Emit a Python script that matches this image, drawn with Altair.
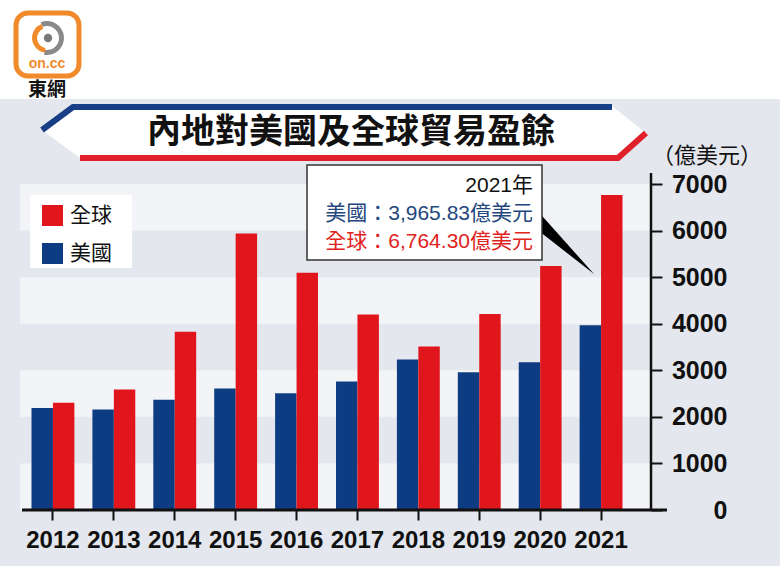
import altair as alt
import pandas as pd

# ---------------- data ----------------
years = ["2012", "2013", "2014", "2015", "2016", "2017", "2018", "2019", "2020", "2021"]
us_values = [2189, 2159, 2370, 2611, 2507, 2758, 3233, 2960, 3170, 3966]
global_values = [2303, 2590, 3825, 5939, 5097, 4196, 3509, 4211, 5240, 6764]
series_bar_order = ["美國", "全球"]
series_legend_order = ["全球", "美國"]
series_colors = ["#e1161c", "#0e3c82"]  # 全球, 美國
y_tick_values = [0, 1000, 2000, 3000, 4000, 5000, 6000, 7000]
panel_low = [0]
panel_high = [7000]
dark_band_low = [1000, 3000, 5000]
dark_band_high = [2000, 4000, 6000]

title_text = "內地對美國及全球貿易盈餘"
unit_text = "（億美元）"
note_year = "2021年"
note_us = "美國：3,965.83億美元"
note_global = "全球：6,764.30億美元"
logo_word = "on.cc"
logo_name = "東網"

# ---------------- layout ----------------
L, T = 20, 184
W, H = 614, 326
R = 780 - L - W
B = 566 - T - H


def px(x):
    return x - L


def py(y):
    return y - T


CJK = "Noto Sans CJK TC"
MIX = "Liberation Sans, Noto Sans CJK TC"

df = pd.DataFrame({
    "year": years * 2,
    "series": ["美國"] * len(years) + ["全球"] * len(years),
    "value": us_values + global_values,
})
panel_df = pd.DataFrame({"lo": panel_low, "hi": panel_high})
band_df = pd.DataFrame({"lo": dark_band_low, "hi": dark_band_high})
one = alt.Chart(pd.DataFrame({"k": [0]}))

yscale = alt.Scale(domain=[0, 7000], nice=False, zero=True)
yaxis = alt.Axis(title=None, orient="right", offset=17, domain=False, grid=False,
                 values=y_tick_values, format="d", tickSize=11, tickWidth=2, tickColor="#111111",
                 labelAlign="right", labelBaseline="middle", labelPadding=65,
                 labelFontSize=25, labelFontWeight="bold", labelFont="Liberation Sans",
                 labelColor="#111111", labelOverlap=False)

# ---------------- background ----------------
bg_top = one.mark_rect(color="#ffffff").encode(
    x=alt.value(px(0)), x2=alt.value(px(780)), y=alt.value(py(0)), y2=alt.value(py(99)))

panel = alt.Chart(panel_df).mark_rect(color="#f3f4f7").encode(
    x=alt.value(px(20)), x2=alt.value(px(651)),
    y=alt.Y("lo:Q", scale=yscale, axis=yaxis), y2="hi:Q")

dark_bands = alt.Chart(band_df).mark_rect(color="#e4e7ed").encode(
    x=alt.value(px(20)), x2=alt.value(px(651)),
    y=alt.Y("lo:Q", scale=yscale, axis=yaxis), y2="hi:Q")

# ---------------- bars ----------------
bars = alt.Chart(df).mark_bar(opacity=1).encode(
    x=alt.X("year:N", sort=years,
            scale=alt.Scale(paddingInner=0.296, paddingOuter=0.189),
            axis=alt.Axis(title=None, domain=False, labelAngle=0, tickSize=10, tickWidth=2,
                          tickColor="#111111", labelFontSize=24, labelFontWeight="bold",
                          labelFont="Liberation Sans", labelColor="#111111", labelPadding=8)),
    xOffset=alt.XOffset("series:N", sort=series_bar_order,
                        scale=alt.Scale(domain=series_bar_order, paddingInner=0, paddingOuter=0)),
    y=alt.Y("value:Q", scale=yscale, axis=yaxis),
    color=alt.Color("series:N",
                    scale=alt.Scale(domain=series_legend_order, range=series_colors),
                    legend=alt.Legend(title=None, orient="none", legendX=px(42), legendY=py(205),
                                      padding=0, symbolType="square", symbolSize=441,
                                      symbolStrokeWidth=0, symbolOpacity=1, labelFontSize=21,
                                      labelFont=CJK, labelColor="#111111", labelOffset=7,
                                      rowPadding=16)),
)

axis_line = one.mark_rule(color="#111111", strokeWidth=2.5).encode(
    x=alt.value(px(651)), y=alt.value(py(173)), y2=alt.value(H))
baseline = one.mark_rule(color="#111111", strokeWidth=3).encode(
    x=alt.value(px(22)), x2=alt.value(px(667)), y=alt.value(H))

legend_box = one.mark_rect(color="#ffffff").encode(
    x=alt.value(px(30)), x2=alt.value(px(132)), y=alt.value(py(195)), y2=alt.value(py(268)))

# ---------------- title banner ----------------
banner_path_fill = "M 42 130 L 73 106 L 612 106 L 646 133 L 618 158 L 80 158 Z"
banner_path_blue = "M 42 130 L 73 107 L 612 107"
banner_path_red = "M 646 133 L 618 158 L 80 158"

banner_fill = one.mark_point(shape=banner_path_fill, size=4, filled=True, fill="#ffffff",
                             stroke="#ffffff", strokeWidth=0, opacity=1).encode(
    x=alt.value(px(0)), y=alt.value(py(0)))
banner_blue = one.mark_point(shape=banner_path_blue, size=4, filled=False, fill="transparent",
                             stroke="#183f86", strokeWidth=6, opacity=1).encode(
    x=alt.value(px(0)), y=alt.value(py(0)))
banner_red = one.mark_point(shape=banner_path_red, size=4, filled=False, fill="transparent",
                            stroke="#e0202a", strokeWidth=6, opacity=1).encode(
    x=alt.value(px(0)), y=alt.value(py(0)))

title = one.mark_text(text=title_text, font=CJK, fontSize=34, fontWeight="bold",
                      color="#111111", align="center", baseline="middle").encode(
    x=alt.value(px(351)), y=alt.value(py(133)))

unit = one.mark_text(text=unit_text, font=CJK, fontSize=22, color="#111111",
                     align="center", baseline="middle").encode(
    x=alt.value(px(707)), y=alt.value(py(156)))

# ---------------- annotation ----------------
pointer = one.mark_point(shape="M 535 208 L 535 228 L 594 274 Z", size=4, filled=True,
                         fill="#000000", strokeWidth=0, opacity=1).encode(
    x=alt.value(px(0)), y=alt.value(py(0)))
note_box = one.mark_rect(fill="#ffffff", stroke="#333333", strokeWidth=1.5).encode(
    x=alt.value(px(307)), x2=alt.value(px(542)), y=alt.value(py(165)), y2=alt.value(py(260)))
note1 = one.mark_text(text=note_year, font=MIX, fontSize=21, color="#111111",
                      align="right", baseline="middle").encode(
    x=alt.value(px(533)), y=alt.value(py(186)))
note2 = one.mark_text(text=note_us, font=MIX, fontSize=21, color="#23467e",
                      align="right", baseline="middle").encode(
    x=alt.value(px(533)), y=alt.value(py(214)))
note3 = one.mark_text(text=note_global, font=MIX, fontSize=21, color="#e1231c",
                      align="right", baseline="middle").encode(
    x=alt.value(px(533)), y=alt.value(py(242)))

# ---------------- logo ----------------
logo_box = one.mark_rect(fill="#ffffff", stroke="#f08a2a", strokeWidth=5, cornerRadius=12).encode(
    x=alt.value(px(16)), x2=alt.value(px(79)), y=alt.value(py(13)), y2=alt.value(py(76)))
logo_gray_arc = one.mark_arc(theta=5.9, theta2=9.6, radius=17, radius2=12,
                             color="#8a8a8a").encode(x=alt.value(px(47)), y=alt.value(py(38)))
logo_orange_arc = one.mark_arc(theta=3.3, theta2=5.9, radius=15, radius2=10,
                               color="#f08a2a").encode(x=alt.value(px(47)), y=alt.value(py(38)))
logo_dot = one.mark_point(shape="circle", size=70, filled=True, color="#7a7a7a", opacity=1).encode(
    x=alt.value(px(48)), y=alt.value(py(38)))
logo_word_mark = one.mark_text(text=logo_word, font="Liberation Sans", fontSize=14,
                               fontWeight="bold", color="#f08a2a", align="center",
                               baseline="middle").encode(x=alt.value(px(47)), y=alt.value(py(64)))
logo_name_mark = one.mark_text(text=logo_name, font=CJK, fontSize=19, fontWeight="bold",
                               color="#111111", align="center", baseline="middle").encode(
    x=alt.value(px(47)), y=alt.value(py(90)))

chart = alt.layer(
    bg_top, panel, dark_bands, bars, axis_line, baseline, legend_box,
    banner_fill, banner_blue, banner_red, title, unit,
    pointer, note_box, note1, note2, note3,
    logo_box, logo_gray_arc, logo_orange_arc, logo_dot, logo_word_mark, logo_name_mark,
).properties(
    width=W, height=H,
    padding={"left": L, "top": T, "right": R, "bottom": B},
    autosize=alt.AutoSizeParams(type="none"),
    background="#e4e7ed",
).configure_view(stroke=None)

chart.save("out.html", embed_options={"renderer": "svg", "actions": False})
